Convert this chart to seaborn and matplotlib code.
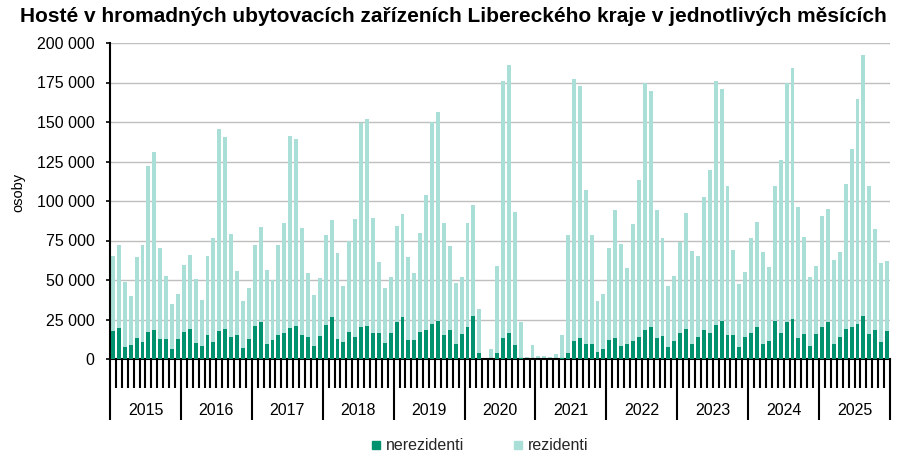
import numpy as np
import pandas as pd
import matplotlib
matplotlib.use("Agg")
import matplotlib.pyplot as plt
import matplotlib.transforms as mtransforms
from matplotlib.ticker import FuncFormatter
from matplotlib.lines import Line2D
import seaborn as sns

# values in thousands of guests, Jan..Dec for each year
years = [2015, 2016, 2017, 2018, 2019, 2020, 2021, 2022, 2023, 2024, 2025]

nerezidenti = [
    17.9, 19.8, 7.8, 9.1, 13.5, 11.0, 17.3, 18.6, 12.9, 12.9, 6.5, 12.9,     # 2015
    17.3, 19.2, 10.3, 8.4, 15.4, 11.0, 17.9, 19.2, 14.1, 15.4, 7.2, 12.9,    # 2016
    21.1, 23.6, 9.7, 12.2, 15.4, 16.7, 19.8, 21.1, 15.4, 14.1, 8.4, 14.8,    # 2017
    21.7, 26.8, 12.9, 11.0, 17.3, 14.1, 20.5, 21.1, 16.7, 16.7, 10.3, 16.7,  # 2018
    23.6, 26.8, 12.2, 12.2, 17.3, 18.6, 22.4, 24.3, 15.4, 18.6, 9.7, 16.0,   # 2019
    20.5, 27.4, 4.0, 0.0, 0.3, 4.0, 13.5, 16.7, 9.1, 0.8, 0.2, 0.3,          # 2020
    0.1, 0.1, 0.1, 0.2, 0.8, 4.0, 11.6, 13.5, 9.7, 9.7, 4.6, 6.5,            # 2021
    12.2, 13.5, 8.4, 9.7, 11.6, 14.1, 18.6, 20.5, 13.5, 14.8, 7.8, 11.6,     # 2022
    16.7, 19.2, 9.7, 14.1, 18.6, 16.7, 21.7, 24.3, 15.4, 15.4, 7.8, 14.1,    # 2023
    16.7, 20.5, 9.7, 11.6, 24.3, 16.7, 23.6, 25.5, 13.5, 16.0, 8.4, 16.0,    # 2024
    20.5, 23.6, 9.7, 14.1, 19.2, 20.5, 22.4, 27.4, 16.0, 18.6, 11.0, 17.9,   # 2025
]

rezidenti = [
    47.5, 52.6, 41.2, 31.0, 51.3, 61.4, 105.1, 112.6, 57.6, 39.8, 28.5, 28.5,   # 2015
    42.4, 46.8, 40.6, 29.2, 50.0, 65.8, 127.9, 121.5, 65.2, 40.5, 29.7, 32.3,   # 2016
    51.3, 60.2, 46.8, 38.0, 57.0, 69.6, 121.6, 118.4, 67.7, 40.5, 32.3, 36.7,   # 2017
    57.0, 61.4, 54.4, 35.4, 57.6, 74.7, 129.1, 131.0, 72.8, 44.9, 34.9, 35.4,   # 2018
    60.8, 65.2, 52.6, 42.4, 62.7, 85.4, 127.8, 132.3, 70.9, 53.1, 38.6, 36.1,   # 2019
    65.8, 70.3, 27.9, 0.0, 6.2, 55.1, 162.7, 169.6, 84.2, 22.8, 1.3, 8.8,       # 2020
    2.0, 2.0, 1.4, 3.2, 14.6, 74.7, 165.9, 159.5, 97.5, 69.0, 32.3, 34.9,       # 2021
    58.3, 81.0, 64.6, 48.1, 74.1, 99.4, 156.3, 149.4, 81.0, 62.0, 38.6, 41.1,   # 2022
    57.6, 73.4, 58.9, 51.3, 84.2, 103.1, 154.5, 146.8, 94.3, 53.8, 39.9, 41.2,  # 2023
    60.1, 66.4, 58.2, 46.8, 85.4, 109.5, 151.3, 158.9, 82.9, 61.4, 43.7, 43.1,  # 2024
    70.2, 71.6, 53.2, 53.8, 91.8, 112.6, 142.4, 165.2, 93.7, 63.9, 50.0, 44.3,  # 2025
]

dark = "#00916e"
light = "#a9dfd6"

months = [f"{y}-{m:02d}" for y in years for m in range(1, 13)]
df = pd.DataFrame({"mesic": months,
                   "nerezidenti": np.array(nerezidenti) * 1000,
                   "rezidenti": np.array(rezidenti) * 1000})
df["celkem"] = df["nerezidenti"] + df["rezidenti"]

sns.set_theme(style="white")
plt.rcParams["font.family"] = ["Liberation Sans", "DejaVu Sans"]

fig = plt.figure(figsize=(9.02, 4.67), dpi=100)
ax = fig.add_axes([110 / 902, 1 - 359 / 467, 780 / 902, 316 / 467])

# stacked look: total in light colour, nonresidents drawn over the bottom
sns.barplot(data=df, x="mesic", y="celkem", color=light, saturation=1, errorbar=None,
            width=0.66, ax=ax, zorder=2, edgecolor="none", linewidth=0)
sns.barplot(data=df, x="mesic", y="nerezidenti", color=dark, saturation=1, errorbar=None,
            width=0.66, ax=ax, zorder=3, edgecolor="none", linewidth=0)

n = len(months)
ax.set_xlim(-0.5, n - 0.5)
ax.set_ylim(0, 200000)
ax.set_yticks(np.arange(0, 200001, 25000))
ax.yaxis.set_major_formatter(FuncFormatter(lambda v, p: f"{int(v):,}".replace(",", " ")))
ax.grid(axis="y", color="#bfbfbf", linewidth=1.0, zorder=0)
ax.set_axisbelow(True)

ax.set_xlabel("")
ax.set_ylabel("")
ax.set_xticks(np.arange(-0.5, n, 12))
ax.set_xticks(np.arange(-0.5, n, 1), minor=True)
ax.set_xticklabels([])
ax.tick_params(axis="x", which="major", bottom=True, length=44, width=1.5,
               color="black", direction="out")
ax.tick_params(axis="x", which="minor", bottom=True, length=21, width=1.5,
               color="black", direction="out")
ax.tick_params(axis="y", which="major", length=3, width=1.2, color="black", left=True,
               pad=8, labelsize=11.5, labelcolor="black")

for s in ["top", "right"]:
    ax.spines[s].set_visible(False)
for s in ["left", "bottom"]:
    ax.spines[s].set_color("black")
    ax.spines[s].set_linewidth(1.5)

trans = mtransforms.blended_transform_factory(ax.transData, ax.transAxes)
for i, y in enumerate(years):
    ax.text(i * 12 + 5.5, -0.162, str(y), transform=trans, ha="center", va="center",
            fontsize=11.5, color="black")

fig.text(18 / 902, 1 - 192 / 467, "osoby", rotation=90, ha="center", va="center",
         fontsize=10.5, color="black")
fig.text(453 / 902, 1 - 17 / 467,
         "Hosté v hromadných ubytovacích zařízeních Libereckého kraje v jednotlivých měsících",
         ha="center", va="center", fontsize=15, fontweight="bold", color="black")

handles = [Line2D([], [], marker="s", linestyle="none", markersize=6,
                  markerfacecolor=dark, markeredgecolor=dark, label="nerezidenti"),
           Line2D([], [], marker="s", linestyle="none", markersize=6,
                  markerfacecolor=light, markeredgecolor=light, label="rezidenti")]
fig.legend(handles=handles, loc="center", bbox_to_anchor=(478 / 902, 1 - 446 / 467),
           ncol=2, frameon=False, fontsize=11.5, handletextpad=0.1, columnspacing=2.9,
           handlelength=1.0)

fig.savefig("out.png", dpi=100)
